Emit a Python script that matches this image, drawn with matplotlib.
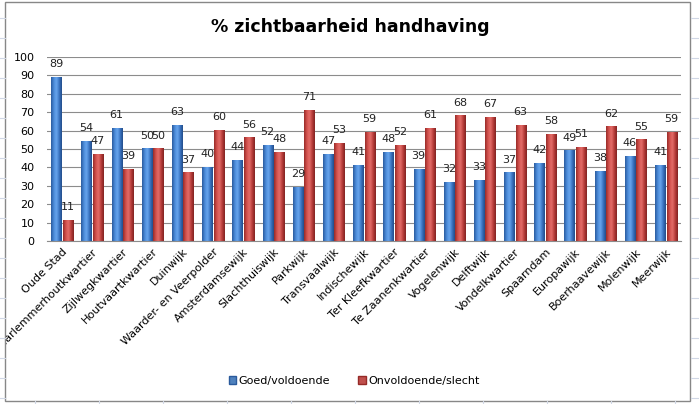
import numpy as np
import matplotlib
matplotlib.use("Agg")
import matplotlib.pyplot as plt
from matplotlib.colors import LinearSegmentedColormap
from matplotlib.patches import Rectangle
from matplotlib.lines import Line2D
from matplotlib.transforms import Bbox, TransformedBbox

categories = ["Oude Stad", "Haarlemmerhoutkwartier", "Zijlwegkwartier", "Houtvaartkwartier",
              "Duinwijk", "Waarder- en Veerpolder", "Amsterdamsewijk", "Slachthuiswijk",
              "Parkwijk", "Transvaalwijk", "Indischewijk", "Ter Kleefkwartier",
              "Te Zaanenkwartier", "Vogelenwijk", "Delftwijk", "Vondelkwartier",
              "Spaarndam", "Europawijk", "Boerhaavewijk", "Molenwijk", "Meerwijk"]
goed = [89, 54, 61, 50, 63, 40, 44, 52, 29, 47, 41, 48, 39, 32, 33, 37, 42, 49, 38, 46, 41]
slecht = [11, 47, 39, 50, 37, 60, 56, 48, 71, 53, 59, 52, 61, 68, 67, 63, 58, 51, 62, 55, 59]
series_names = ["Goed/voldoende", "Onvoldoende/slecht"]
yticks = list(range(0, 101, 10))

W, H = 699, 404
fig = plt.figure(figsize=(W / 100, H / 100), dpi=100)
fig.patch.set_facecolor("white")

# spreadsheet cell lines outside chart
for y in range(18, H, 20):
    fig.add_artist(Line2D([0, 5 / W], [1 - y / H, 1 - y / H], color="#d0d7e5", lw=0.8))
    fig.add_artist(Line2D([691 / W, 1], [1 - y / H, 1 - y / H], color="#d0d7e5", lw=0.8))
for x in [35, 99, 163, 227, 291, 355, 419, 483, 547, 611, 675]:
    fig.add_artist(Line2D([x / W, x / W], [0, 3 / H], color="#d0d7e5", lw=0.8))
# chart border
fig.add_artist(Rectangle((5 / W, 3 / H), 685 / W, 399 / H, fill=False,
                         edgecolor="#878787", lw=1.0))
chart_clip = TransformedBbox(Bbox([[5.5 / W, 3 / H], [690 / W, 402 / H]]), fig.transFigure)

ax = fig.add_axes([47 / W, 1 - 241 / H, (681 - 47) / W, (241 - 57) / H])
ax.set_facecolor("white")
n = len(categories)
x = np.arange(n)
bw = 0.34
gap = 0.04

blue_cmap = LinearSegmentedColormap.from_list("b", ["#2a5a9c", "#4a8ad8", "#6aa6ee", "#3a74c2", "#224c88"])
red_cmap = LinearSegmentedColormap.from_list("r", ["#962a27", "#d2504c", "#e46e6a", "#b93c39", "#7f2321"])
grad = np.linspace(0, 1, 64).reshape(1, -1)

def draw_bars(xs, vals, cmap, color):
    bars = ax.bar(xs, vals, width=bw, color=color, zorder=2)
    for b in bars:
        x0, w, h = b.get_x(), b.get_width(), b.get_height()
        b.set_facecolor("none")
        b.set_edgecolor("none")
        ax.imshow(grad, extent=(x0, x0 + w, 0, h), cmap=cmap, aspect="auto",
                  zorder=2, interpolation="bicubic")
    return bars

bx = x - bw / 2 - gap / 2
rx = x + bw / 2 + gap / 2
draw_bars(bx, goed, blue_cmap, "#4f81bd")
draw_bars(rx, slecht, red_cmap, "#c0504d")

for xi, v in zip(bx, goed):
    ax.text(xi, v + 4.5, str(v), ha="center", va="bottom", fontsize=8, color="#222222")
for xi, v in zip(rx, slecht):
    ax.text(xi, v + 4.5, str(v), ha="center", va="bottom", fontsize=8, color="#222222")

ax.set_xlim(-0.5, n - 0.5)
ax.set_ylim(0, 100)
ax.set_yticks(yticks)
ax.set_yticklabels([str(t) for t in yticks], fontsize=8)
ax.yaxis.grid(True, color="#8c8c8c", lw=0.8)
ax.set_axisbelow(True)
for s in ["top", "right", "left"]:
    ax.spines[s].set_visible(False)
ax.spines["bottom"].set_color("#8c8c8c")
ax.tick_params(axis="y", length=0, pad=9)
ax.set_xticks(x)
ax.set_xticklabels(categories, rotation=45, ha="right", rotation_mode="anchor", fontsize=8)
ax.tick_params(axis="x", length=0, pad=4)
for lbl in ax.get_xticklabels():
    lbl.set_clip_box(chart_clip)
    lbl.set_clip_on(True)

fig.text(350 / W, 1 - 27 / H, "% zichtbaarheid handhaving", ha="center", va="center",
         fontsize=12.5, fontweight="bold", color="black")

handles = [Rectangle((0, 0), 1, 1, facecolor="#4f81bd", edgecolor="#2a5a9c"),
           Rectangle((0, 0), 1, 1, facecolor="#c0504d", edgecolor="#962a27")]
fig.legend(handles, series_names, loc="center", bbox_to_anchor=(354 / W, 1 - 381 / H),
           ncol=2, frameon=False, fontsize=8, handlelength=0.7, handleheight=0.7,
           handletextpad=0.2, columnspacing=2.5)

fig.savefig("out.png", dpi=100)
